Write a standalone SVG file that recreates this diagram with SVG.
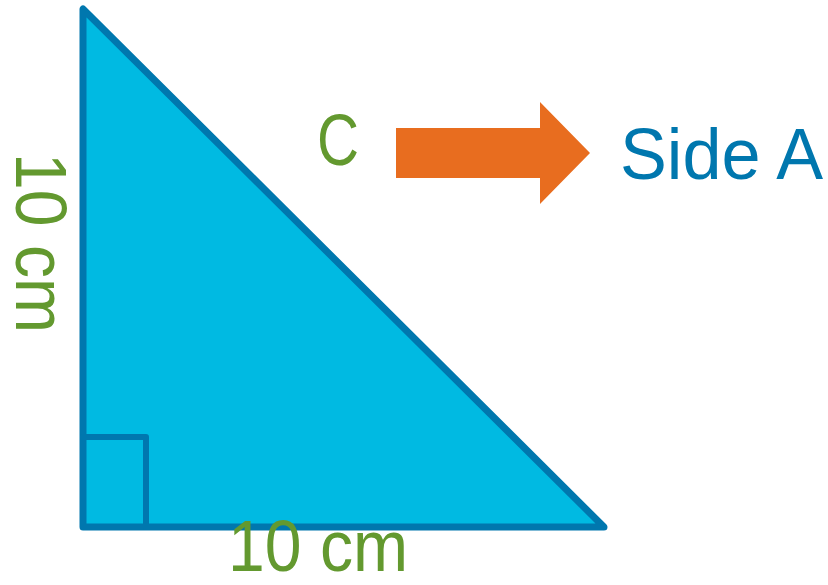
<svg xmlns="http://www.w3.org/2000/svg" width="828" height="585" viewBox="0 0 828 585">
  <style>
    .edge { stroke: #0077ae; stroke-linejoin: round; stroke-linecap: round; }
    .tri { fill: #00bae2; }
    .mark { fill: none; }
    .lbl { font-family: "Liberation Sans", Arial, sans-serif; font-size: 72px; }
    .green { fill: #63992f; }
    .blue { fill: #0077ae; }
    .arrow { fill: #e86d1f; }
  </style>
  <g id="triangle">
    <polygon points="83,9 83,527 604,527" class="edge tri" stroke-width="7"/>
    <polyline points="83,437 146,437 146,527" class="edge mark" stroke-width="6" stroke-linecap="butt"/>
  </g>
  <g id="label-left">
    <text class="lbl green" transform="translate(16,153) rotate(90)" textLength="180" lengthAdjust="spacingAndGlyphs">10 cm</text>
  </g>
  <g id="label-bottom">
    <text class="lbl green" x="228" y="571" font-size="62" textLength="180" lengthAdjust="spacingAndGlyphs">10 cm</text>
  </g>
  <g id="label-c">
    <text class="lbl green" x="317" y="165" textLength="42" lengthAdjust="spacingAndGlyphs">C</text>
  </g>
  <g id="connectors">
    <polygon points="396,128 540,128 540,102 590,153 540,204 540,178 396,178" class="arrow"/>
  </g>
  <g id="label-side-a">
    <text class="lbl blue" x="620" y="179" font-size="76" textLength="203" lengthAdjust="spacingAndGlyphs">Side A</text>
  </g>
</svg>
